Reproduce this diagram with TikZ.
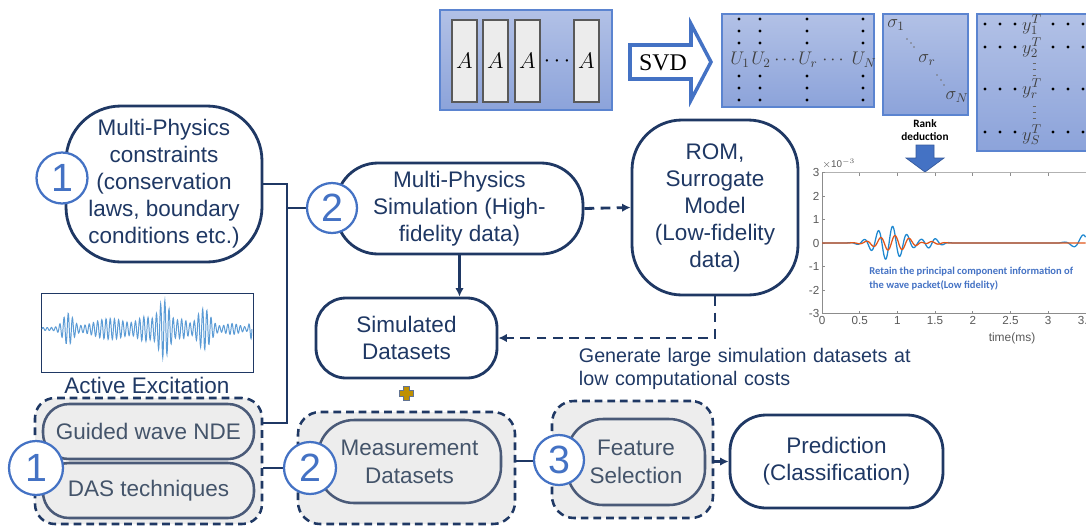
\RequirePackage{fix-cm}
\documentclass[tikz,border=0pt]{standalone}
\usepackage{fontspec}
\setmainfont{Liberation Sans}
\newfontfamily\calib{Carlito}
\newfontfamily\serifa{Liberation Serif}
\usetikzlibrary{arrows.meta}
\definecolor{navy}{HTML}{1F3864}
\definecolor{cblue}{HTML}{4472C4}
\definecolor{gtext}{HTML}{44546A}
\definecolor{gline}{HTML}{4A5A78}
\definecolor{gfill}{HTML}{EDEDED}
\definecolor{mtop}{HTML}{B2C1E6}
\definecolor{mbot}{HTML}{8CA3DA}
\definecolor{mborder}{HTML}{5B84D0}
\definecolor{wave}{HTML}{5B9BD5}
\definecolor{morange}{HTML}{E0561A}
\definecolor{mblue}{HTML}{1E88D0}
\definecolor{gold}{HTML}{BF9000}
\def\pu{0.025cm}
\begin{document}
\begin{tikzpicture}[x=0.025cm,y=-0.025cm,
  declare function={g(\u,\c,\s)=exp(-min(3,abs((\u-\c)/\s))*min(3,abs((\u-\c)/\s)));},
  mainbox/.style={draw=navy, line width=2pt, fill=white, text=navy, align=center, font=\fontsize{16}{19.2}\selectfont, inner sep=0pt},
  graybox/.style={draw=gline, line width=1.8pt, fill=gfill, text=gtext, align=center, font=\fontsize{16}{20}\selectfont, inner sep=0pt},
  grp/.style={draw=navy, line width=1.8pt, dash pattern=on 5.5pt off 3.5pt, fill=gfill, inner sep=0pt},
  num/.style={circle, draw=cblue, line width=1.6pt, fill=white, text=cblue, inner sep=0pt, font=\fontsize{28}{28}\selectfont},
  conn/.style={draw=navy, line width=2pt},
  dconn/.style={draw=navy, line width=2pt, dash pattern=on 7pt off 4.5pt},
  arr/.style={-{Latex[length=6pt,width=6pt]}},
  mat/.style={draw=mborder, line width=0.8pt, top color=mtop, bottom color=mbot, inner sep=0pt},
  acol/.style={draw=black!65, line width=1pt, fill=gray!15, inner sep=0pt},
  mdot/.style={fill=black, circle, inner sep=0pt, minimum size=3.4*\pu},
  sdot/.style={fill=black!55, circle, inner sep=0pt, minimum size=1.8*\pu},
  mlab/.style={text=black!75, font=\fontsize{13}{13}\selectfont, inner sep=0pt},
  ticklab/.style={text=black!65, font=\fontsize{8.3}{9}\selectfont, inner sep=1pt}
]
\useasboundingbox (0,0) rectangle (1086,528);
\clip (0,0) rectangle (1086,528);

% ---------- SVD illustration ----------
\node[mat, minimum width=172*\pu, minimum height=100*\pu] (amat) at (526,60) {};
\foreach \cx/\nm in {464.5/a1,495.5/a2,527.5/a3,586.5/a4}
  \node[acol, minimum width=25*\pu, minimum height=82*\pu, font=\fontsize{16}{16}\selectfont] (\nm) at (\cx,61) {$A$};
\node[font=\fontsize{16}{16}\selectfont, inner sep=0pt] (adots) at (557,61) {$\cdots$};

\draw[fill=white, draw=cblue, line width=2.5pt, line join=miter]
  (630,45) -- (691,45) -- (691,24) -- (711,62) -- (691,100) -- (691,79) -- (630,79) -- cycle;
\node[font=\serifa\fontsize{17}{17}\selectfont, inner sep=0pt] (svd) at (663,63) {SVD};

\node[mat, minimum width=152*\pu, minimum height=93*\pu] (umat) at (798,60.5) {};
\foreach \cx in {739,760,807,863}
  \foreach \ry in {19,31,43,76,88,100}
    \node[mdot] at (\cx,\ry) {};
\node[mlab] (u1) at (740,60) {$U_1$};
\node[mlab] (u2) at (761,60) {$U_2$};
\node[mlab] at (785,60) {$\cdots$};
\node[mlab] (ur) at (808,60) {$U_r$};
\node[mlab] at (833,60) {$\cdots$};
\node[mlab] (un) at (864,60) {$U_N$};

\node[mat, minimum width=85*\pu, minimum height=101*\pu] (smat) at (925.5,64.5) {};
\node[mlab] (s1) at (896,25) {$\sigma_1$};
\node[mlab] (sr) at (927,60) {$\sigma_r$};
\node[mlab] (sn) at (957,97) {$\sigma_N$};
\foreach \px/\py in {907/39,911/43,914/47,937/75,941/80,944/85}
  \node[sdot] at (\px,\py) {};

\node[mat, minimum width=115*\pu, minimum height=137*\pu] (ymat) at (1034.5,82.5) {};
\foreach \ry in {24,47,89,132}
  \foreach \cx in {985,1000,1015,1053,1068,1083}
    \node[mdot] at (\cx,\ry) {};
\node[mlab] (y1) at (1032,25) {$y_1^T$};
\node[mlab] (y2) at (1032,48) {$y_2^T$};
\node[mlab] (yr) at (1032,89) {$y_r^T$};
\node[mlab] (ys) at (1032,135) {$y_S^T$};
\foreach \ry in {63,69,75,106,112,118}
  \draw[black!60, line width=0.6pt] (1032.5,\ry) -- (1035.5,\ry);

\node[font=\calib\bfseries\fontsize{8}{9.4}\selectfont, align=center, inner sep=0pt] (rank) at (925,130) {Rank\\deduction};
\draw[fill=cblue, draw=cblue!80!black, line width=0.5pt, line join=miter]
  (916,145) -- (934,145) -- (934,158) -- (944,158) -- (925,172) -- (906,158) -- (916,158) -- cycle;

% ---------- plot ----------
\draw[black!45, line width=0.5pt] (822,172.5) -- (822,313.5) -- (1090,313.5);
\draw[black!30, line width=0.5pt] (822,172.5) -- (1090,172.5);
\foreach \t/\lab in {0/0,0.5/0.5,1/1,1.5/1.5,2/2,2.5/2.5,3/3,3.5/3.5}{
  \draw[black!45, line width=0.5pt] ({822+75.4*\t},313.5) -- ({822+75.4*\t},310.5);
  \draw[black!45, line width=0.5pt] ({822+75.4*\t},172.5) -- ({822+75.4*\t},175.5);
  \node[ticklab, anchor=north] at ({822+75.4*\t},315) {\lab};
}
\foreach \v in {3,2,1,0,-1,-2,-3}{
  \draw[black!45, line width=0.5pt] (822,{243-23.5*\v}) -- (825,{243-23.5*\v});
  \node[ticklab, anchor=east] at (821,{243-23.5*\v}) {\v};
}
\node[ticklab, anchor=west, font=\fontsize{7}{7}\selectfont, inner sep=0pt] (expo) at (822,164) {$\times$10$^{\mathrm{-}3}$};
\node[ticklab, font=\fontsize{8.5}{9}\selectfont] (tlab) at (1012,338) {time(ms)};
\draw[mblue, line width=0.9pt] plot[domain=0:3.5, samples=500, variable=\t]
  ({822+75.4*\t},{243-23.5*((0.72*g(\t,0.9,0.27)+0.2*g(\t,1.45,0.15))*cos(360*frac(abs(\t-0.937)/0.19))+0.4*g(\t,3.55,0.22)*cos(360*frac(abs(\t-3.46)/0.26)))});
\draw[morange, line width=0.9pt] plot[domain=0:3.5, samples=400, variable=\t]
  ({822+75.4*\t},{243-23.5*(0.32*g(\t,0.95,0.3)*cos(360*frac(abs(\t-0.968)/0.19))+0.08*g(\t,1.45,0.15)*cos(360*frac(abs(\t-1.45)/0.19)))});
\node[anchor=west, text=cblue, font=\calib\bfseries\fontsize{7.5}{10}\selectfont, align=left, inner sep=0pt] (retain) at (869,279)
  {Retain the principal component information of\\the wave packet(Low fidelity)};

% ---------- main flow ----------
\node[mainbox, rounded corners=55*\pu, minimum width=196*\pu, minimum height=156*\pu] (b1) at (164,184)
  {Multi-Physics\\constraints\\(conservation\\laws, boundary\\conditions etc.)};
\node[mainbox, rounded corners=42*\pu, minimum width=247*\pu, minimum height=91*\pu] (b2) at (459.5,208.5)
  {Multi-Physics\\Simulation (High-\\fidelity data)};
\node[mainbox, rounded corners=50*\pu, minimum width=166*\pu, minimum height=175*\pu] (rom) at (715,207.5)
  {ROM,\\Surrogate\\Model\\(Low-fidelity\\data)};
\node[mainbox, rounded corners=30*\pu, minimum width=181*\pu, minimum height=80*\pu] (sim) at (406.5,338)
  {Simulated\\Datasets};

\node[draw=navy, line width=0.7pt, fill=white, minimum width=212*\pu, minimum height=79*\pu, inner sep=0pt] (wimg) at (147,332.5) {};
\draw[wave, line width=0.7pt] plot[domain=42:252, samples=700, variable=\x]
  (\x,{329-(1.5+14*g(\x,68,7)+9*g(\x,110,22)+27*g(\x,164,8)+10*g(\x,145,10)+19*g(\x,204,9)+8*g(\x,182,8)+4*g(\x,232,10)+9*g(\x,252,3))*sin(360*frac((\x-42)/4.2))});
\node[text=navy, font=\fontsize{16}{19}\selectfont, inner sep=0pt] (actx) at (147,385) {Active Excitation};

\node[anchor=center, text=navy, font=\fontsize{14}{16.3}\selectfont, align=left, text width=8.725cm, inner sep=0pt] (gen) at (753.5,368.5)
  {\makebox[8.725cm][s]{Generate large simulation datasets at}\\low computational costs};

\draw[fill=gold, draw=navy!70, line width=0.6pt]
  (403,386) -- (409,386) -- (409,390) -- (413,390) -- (413,396) -- (409,396) -- (409,400) -- (403,400) -- (403,396) -- (399,396) -- (399,390) -- (403,390) -- cycle;

% bottom groups
\node[grp, rounded corners=20*\pu, minimum width=227*\pu, minimum height=126*\pu] (g1) at (148.5,461) {};
\node[graybox, rounded corners=26*\pu, minimum width=211*\pu, minimum height=55*\pu] (gw) at (148.5,431.5) {Guided wave NDE};
\node[graybox, rounded corners=26*\pu, minimum width=211*\pu, minimum height=55*\pu] (das) at (148.5,490.5) {DAS techniques};

\node[grp, rounded corners=22*\pu, minimum width=217*\pu, minimum height=112*\pu] (g2) at (406.5,468) {};
\node[graybox, rounded corners=36*\pu, minimum width=183*\pu, minimum height=83*\pu] (meas) at (409.5,461.5) {Measurement\\Datasets};

\node[grp, rounded corners=22*\pu, minimum width=161*\pu, minimum height=117*\pu] (g3) at (632.5,459.5) {};
\node[graybox, rounded corners=36*\pu, minimum width=138*\pu, minimum height=86*\pu] (feat) at (636,462) {Feature\\Selection};

\node[mainbox, rounded corners=36*\pu, minimum width=213*\pu, minimum height=93*\pu] (pred) at (836.5,461.5) {Prediction\\(Classification)};

% connectors
\coordinate (j1) at (287,184);
\coordinate (j2) at (287,423);
\draw[conn] (b1.east) -- (j1) -- (j2) -- (j2 -| g1.east);
\draw[conn] (j1 |- 0,208) -- (307,208);
\draw[dconn, arr] (b2.east) -- (rom.west);
\draw[conn, arr] (b2.south) -- (b2.south |- sim.north);
\draw[dconn, arr] (rom.south) |- (sim.east);
\draw[conn] (g1.east |- 0,468) -- (284,468);
\draw[conn] (g2.east |- 0,461) -- (535,461);
\draw[conn, arr] (g3.east |- pred.west) -- (pred.west);

% numbered circles
\node[num, minimum size=51*\pu] (n1a) at (62,178) {1};
\node[num, minimum size=50*\pu] (n2a) at (332,208) {2};
\node[num, minimum size=54*\pu] (n1b) at (36,468) {1};
\node[num, minimum size=52*\pu] (n2b) at (310,468) {2};
\node[num, minimum size=50*\pu] (n3) at (559,460) {3};
\end{tikzpicture}
\end{document}
